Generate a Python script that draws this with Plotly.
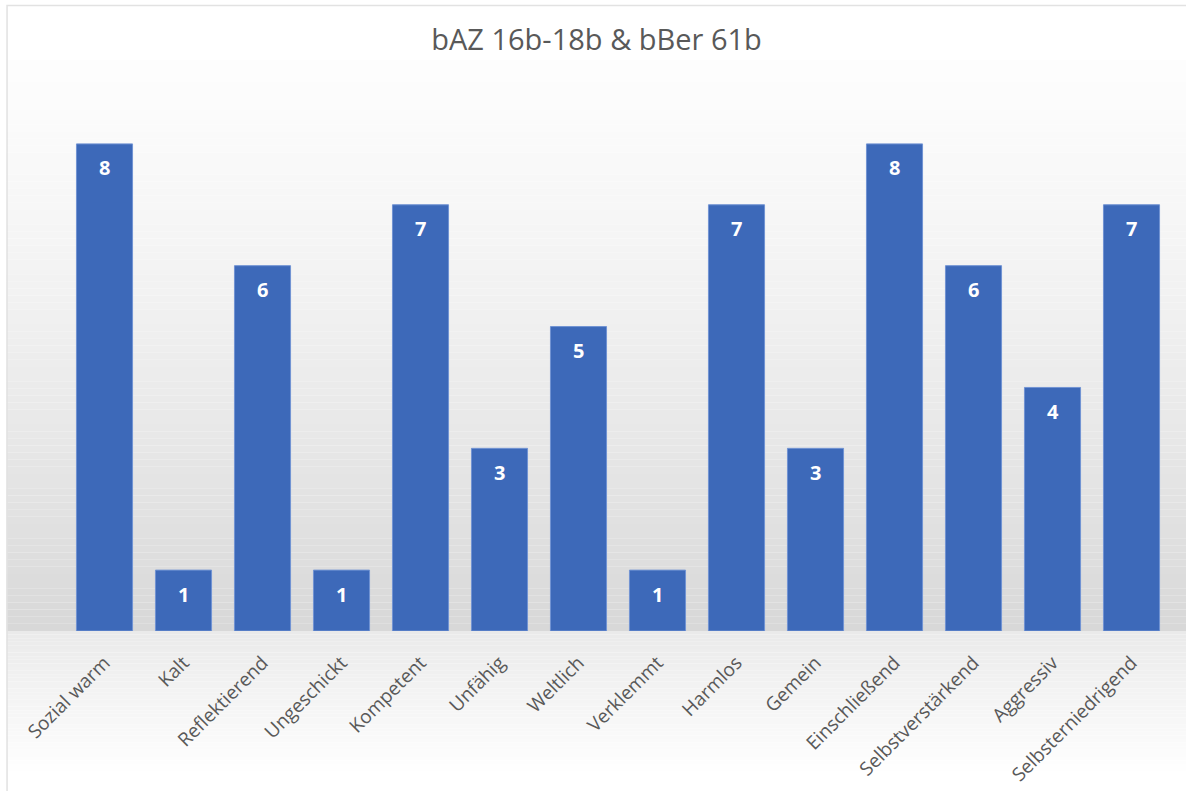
import plotly.graph_objects as go

categories = ["Sozial warm", "Kalt", "Reflektierend", "Ungeschickt", "Kompetent",
              "Unfähig", "Weltlich", "Verklemmt", "Harmlos", "Gemein",
              "Einschließend", "Selbstverstärkend", "Aggressiv", "Selbsterniedrigend"]
values = [8, 1, 6, 1, 7, 3, 5, 1, 7, 3, 8, 6, 4, 7]
title_text = "bAZ 16b-18b & bBer 61b"

W, H = 1186, 791
ML, MR, MT, MB = 64.5, 14.5, 83, 160
PW, PH = W - ML - MR, H - MT - MB


def px_x(x):
    return (x - ML) / PW


def px_y(y):
    return (H - MB - y) / PH


def gray(v):
    v = int(round(v))
    return f"rgb({v},{v},{v})"


shapes = []
# background gradient above the floor line (y 60 -> 631)
n = 80
y_top, y_bot = 60, 631
for i in range(n):
    ya = y_top + (y_bot - y_top) * i / n
    yb = y_top + (y_bot - y_top) * (i + 1) / n
    t = (i + 0.5) / n
    c = 253 - (253 - 216) * (t ** 1.3)
    shapes.append(dict(type="rect", xref="paper", yref="paper", layer="below",
                       x0=px_x(6), x1=px_x(W + 5), y0=px_y(yb), y1=px_y(ya),
                       fillcolor=gray(c), line=dict(width=0)))
# floor gradient below axis (631 -> 775)
n2 = 40
y_top2, y_bot2 = 631, 775
for i in range(n2):
    ya = y_top2 + (y_bot2 - y_top2) * i / n2
    yb = y_top2 + (y_bot2 - y_top2) * (i + 1) / n2
    t = (i + 0.5) / n2
    c = 234 + (255 - 234) * t
    shapes.append(dict(type="rect", xref="paper", yref="paper", layer="below",
                       x0=px_x(6), x1=px_x(W + 5), y0=px_y(yb), y1=px_y(ya),
                       fillcolor=gray(c), line=dict(width=0)))
# outer frame
shapes.append(dict(type="rect", xref="paper", yref="paper", layer="above",
                   x0=px_x(6.5), x1=px_x(W + 10), y0=px_y(H + 10), y1=px_y(5.5),
                   fillcolor="rgba(0,0,0,0)", line=dict(color="#e2e2e2", width=1.5)))

fig = go.Figure()
fig.add_trace(go.Bar(
    x=categories, y=values,
    marker=dict(color="#3d69b9", line=dict(color="#7193d3", width=1)),
    width=0.71,
    hoverinfo="x+y",
))

annotations = [
    dict(x=c, y=v, xref="x", yref="y", text=f"<b>{v}</b>", showarrow=False,
         yshift=-24, font=dict(family="Open Sans", size=20, color="white"))
    for c, v in zip(categories, values)
]

fig.update_layout(
    width=W, height=H,
    margin=dict(l=ML, r=MR, t=MT, b=MB, pad=0),
    paper_bgcolor="white",
    plot_bgcolor="rgba(0,0,0,0)",
    title=dict(text=title_text, x=0.503, xref="container", xanchor="center",
               y=1 - 40 / H, yref="container", yanchor="middle",
               font=dict(family="Open Sans", size=29, color="#595959")),
    font=dict(family="Open Sans", color="#595959"),
    showlegend=False,
    shapes=shapes,
    annotations=annotations,
    bargap=0.29,
)
fig.update_xaxes(tickangle=-45, tickfont=dict(size=19, color="#595959"),
                 showline=False, showgrid=False, ticks="", ticklen=0,
                 ticklabelstandoff=16, ticklabelshift=0,
                 automargin=False)
fig.update_yaxes(range=[0, 9], visible=False, showgrid=False, zeroline=False)

fig.write_html("out.html")
